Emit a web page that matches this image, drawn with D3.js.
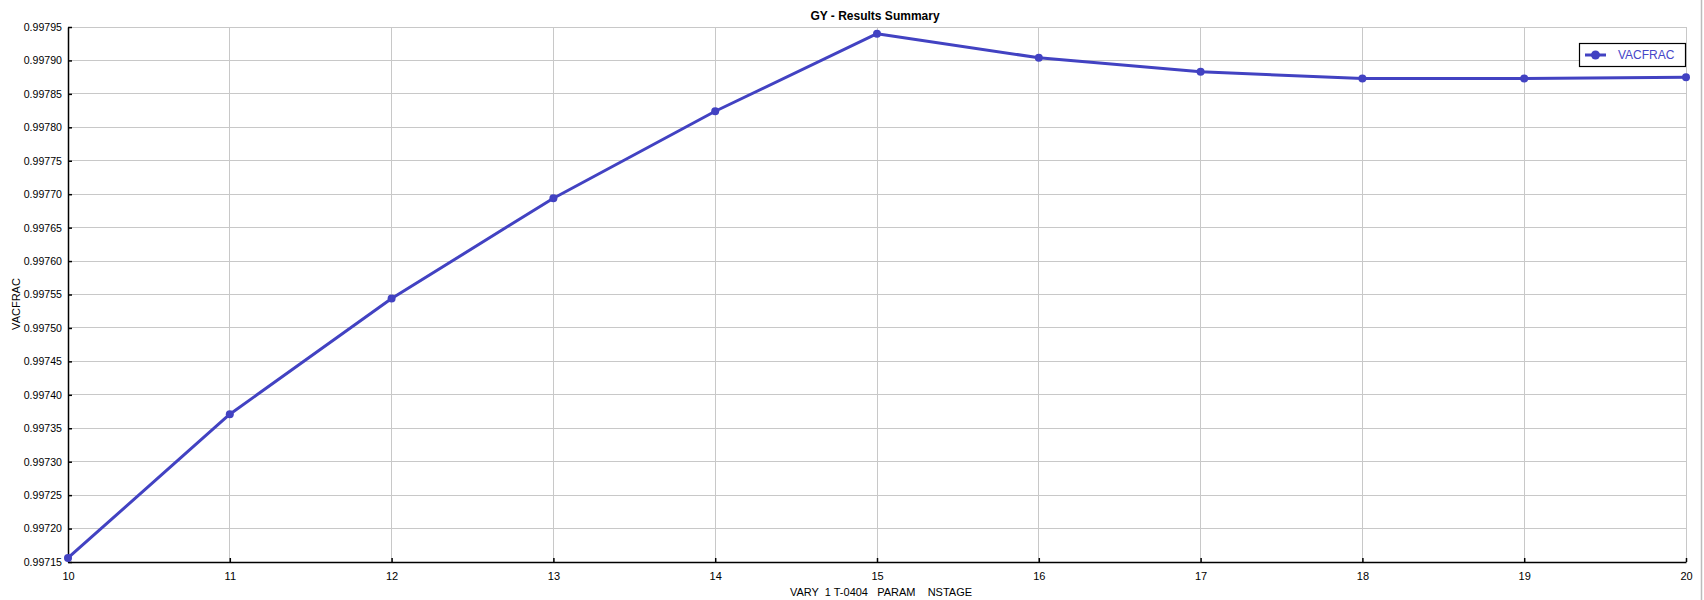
<!DOCTYPE html>
<html>
<head>
<meta charset="utf-8">
<script src="https://cdn.jsdelivr.net/npm/d3@7/dist/d3.min.js"></script>
<style>
  html, body { margin: 0; padding: 0; background: #fff; }
  svg { display: block; }
  text { font-family: "Liberation Sans", Arial, sans-serif; }
</style>
</head>
<body>
<script>
const categories = [10, 11, 12, 13, 14, 15, 16, 17, 18, 19, 20];
const vacfrac = [0.997156, 0.997371, 0.997544, 0.997694, 0.997824, 0.997940, 0.997904, 0.997883, 0.997873, 0.997873, 0.997875];
const yTicks = [0.99715, 0.99720, 0.99725, 0.99730, 0.99735, 0.99740, 0.99745, 0.99750, 0.99755, 0.99760, 0.99765, 0.99770, 0.99775, 0.99780, 0.99785, 0.99790, 0.99795];
const seriesName = "VACFRAC";
const title = "GY - Results Summary";
const xTitle = "VARY  1 T-0404   PARAM    NSTAGE";
const yTitle = "VACFRAC";

const W = 1704, H = 600;
const m = {left: 68, right: 18, top: 27, bottom: 38};
const color = "#4242c2";

const svg = d3.select("body").append("svg").attr("width", W).attr("height", H);

const x = d3.scaleLinear().domain([10, 20]).range([m.left, W - m.right]);
const y = d3.scaleLinear().domain([0.99715, 0.99795]).range([H - m.bottom, m.top]);

// gridlines
svg.append("g").selectAll("line.v").data(categories.slice(1)).join("line")
  .attr("x1", d => x(d)).attr("x2", d => x(d))
  .attr("y1", m.top).attr("y2", H - m.bottom)
  .attr("stroke", "#c8c8c8").attr("stroke-width", 1).attr("shape-rendering", "crispEdges");
svg.append("g").selectAll("line.h").data(yTicks.slice(1)).join("line")
  .attr("x1", m.left).attr("x2", W - m.right)
  .attr("y1", d => y(d)).attr("y2", d => y(d))
  .attr("stroke", "#c8c8c8").attr("stroke-width", 1).attr("shape-rendering", "crispEdges");

// axes
const xAxis = d3.axisBottom(x).tickValues(categories).tickSizeInner(-4).tickSizeOuter(0).tickPadding(10).tickFormat(d3.format("d"));
const yAxis = d3.axisLeft(y).tickValues(yTicks).tickSizeInner(-4).tickSizeOuter(0).tickPadding(7).tickFormat(d3.format(".5f"));

const gx = svg.append("g").attr("transform", `translate(0,${H - m.bottom})`).call(xAxis);
const gy = svg.append("g").attr("transform", `translate(${m.left},0)`).call(yAxis);
[gx, gy].forEach(g => {
  g.select(".domain").attr("stroke", "#000").attr("stroke-width", 1.5);
  g.selectAll(".tick line").attr("stroke", "#000").attr("stroke-width", 1.5);
  g.selectAll(".tick text").attr("fill", "#000").style("font-size", "11px").style("font-family", "'Liberation Sans', Arial, sans-serif");
});
gy.selectAll(".tick text").attr("x", -6).style("font-size", "10.6px");

// line
const line = d3.line().x((d, i) => x(categories[i])).y(d => y(d));
svg.append("path").datum(vacfrac).attr("d", line)
  .attr("fill", "none").attr("stroke", color).attr("stroke-width", 3).attr("stroke-linejoin", "round");
svg.append("g").selectAll("circle").data(vacfrac).join("circle")
  .attr("cx", (d, i) => x(categories[i])).attr("cy", d => y(d)).attr("r", 4)
  .attr("fill", color);

// titles
svg.append("text").attr("x", 875).attr("y", 20).attr("text-anchor", "middle")
  .style("font-size", "12px").style("font-weight", "bold").text(title);
svg.append("text").attr("x", 881).attr("y", 596).attr("text-anchor", "middle")
  .style("font-size", "11px").style("white-space", "pre").attr("xml:space", "preserve").text(xTitle);
svg.append("text").attr("transform", "translate(20,304) rotate(-90)").attr("text-anchor", "middle")
  .style("font-size", "11px").text(yTitle);

// legend
const lg = svg.append("g");
lg.append("rect").attr("x", 1579.5).attr("y", 43.5).attr("width", 106).attr("height", 23)
  .attr("fill", "#fff").attr("stroke", "#000").attr("stroke-width", 1.2);
lg.append("line").attr("x1", 1585).attr("x2", 1606).attr("y1", 55).attr("y2", 55)
  .attr("stroke", color).attr("stroke-width", 3);
lg.append("circle").attr("cx", 1595.5).attr("cy", 55).attr("r", 4.5).attr("fill", color);
lg.append("text").attr("x", 1618).attr("y", 59).style("font-size", "12px").attr("fill", "#4646c8").text(seriesName);

// right window edge
svg.append("line").attr("x1", 1701.5).attr("x2", 1701.5).attr("y1", 0).attr("y2", H)
  .attr("stroke", "#bbb").attr("stroke-width", 1.5);
</script>
</body>
</html>
